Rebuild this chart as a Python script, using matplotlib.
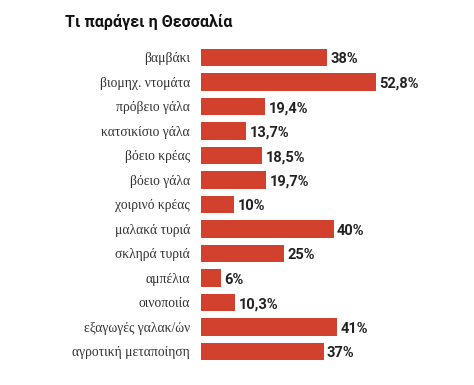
import matplotlib.pyplot as plt

categories = ['βαμβάκι', 'βιομηχ. ντομάτα', 'πρόβειο γάλα', 'κατσικίσιο γάλα',
              'βόειο κρέας', 'βόειο γάλα', 'χοιρινό κρέας', 'μαλακά τυριά',
              'σκληρά τυριά', 'αμπέλια', 'οινοποιία', 'εξαγωγές γαλακ/ών',
              'αγροτική μεταποίηση']
values = [38, 52.8, 19.4, 13.7, 18.5, 19.7, 10, 40, 25, 6, 10.3, 41, 37]
value_labels = ['38%', '52,8%', '19,4%', '13,7%', '18,5%', '19,7%', '10%',
                '40%', '25%', '6%', '10,3%', '41%', '37%']

fig = plt.figure(figsize=(4.74, 3.85), dpi=100)
ax = fig.add_axes([201 / 474, 0.0552, 273 / 474, 0.8273])

y = list(range(len(categories)))
ax.barh(y, values, height=0.7, color='#d2402e')
ax.set_ylim(len(categories) - 0.5, -0.5)
ax.set_xlim(0, 273 / 3.314)

for yi, v, lab in zip(y, values, value_labels):
    ax.text(v + 1.0, yi + 0.08, lab, va='center', ha='left',
            fontsize=10.5, fontweight='bold', family='Roboto', color='#222222')

ax.set_yticks(y)
ax.set_yticklabels(categories, family='Liberation Serif', fontsize=9.8, color='#333333')
ax.tick_params(axis='y', length=0, pad=8)
ax.set_xticks([])
for s in ax.spines.values():
    s.set_visible(False)

fig.text(65 / 474, 1 - 22 / 385, 'Τι παράγει η Θεσσαλία', ha='left', va='center',
         fontsize=11.5, fontweight='bold', family='Roboto', color='#111111')

fig.savefig('out.png', dpi=100)
